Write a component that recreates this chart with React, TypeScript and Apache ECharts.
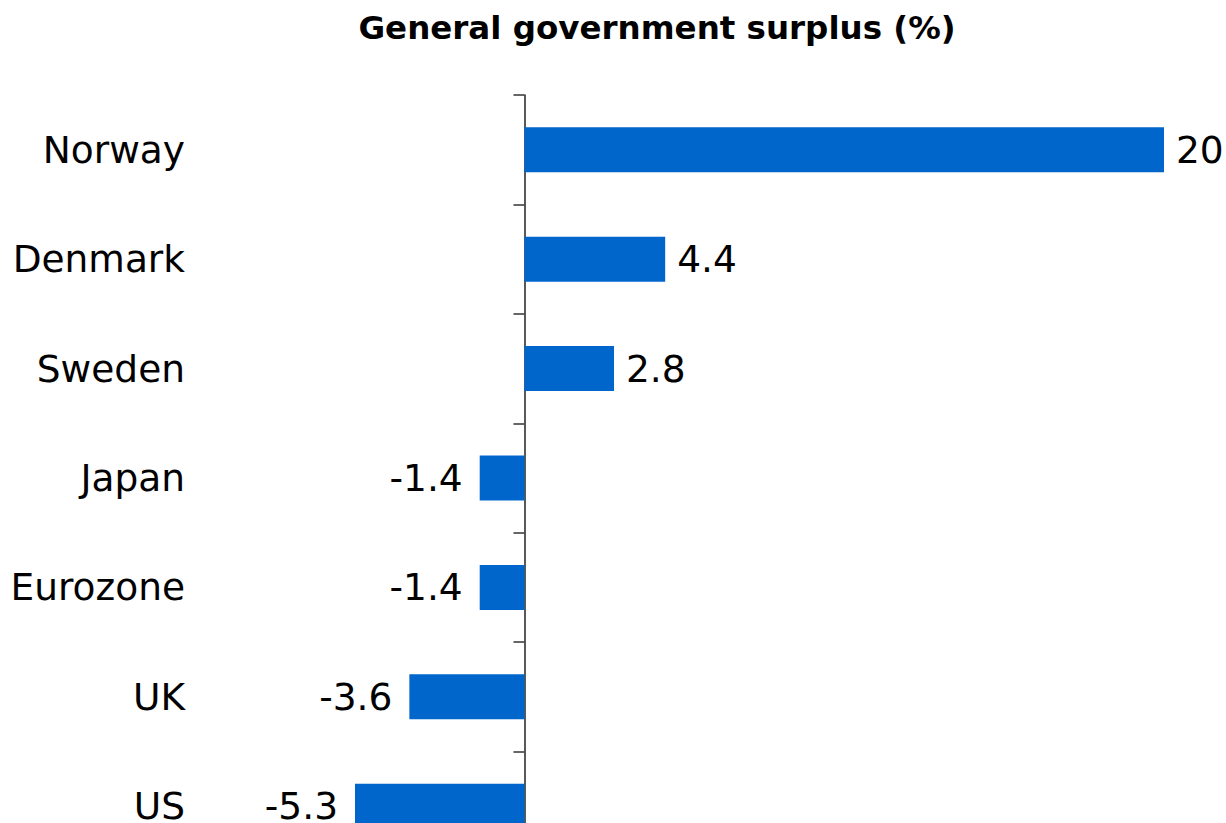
import React, { useEffect, useRef } from "react";
import * as echarts from "echarts";

const categories = ["Norway", "Denmark", "Sweden", "Japan", "Eurozone", "UK", "US"];
const values = [20, 4.4, 2.8, -1.4, -1.4, -3.6, -5.3];
const titleText = "General government surplus (%)";

export default function App() {
  const ref = useRef<HTMLDivElement>(null);
  useEffect(() => {
    document.body.style.margin = "0";
    const chart = echarts.init(ref.current!, null, { renderer: "svg" });
    chart.setOption({
      animation: false,
      title: {
        text: titleText,
        left: 652,
        top: 6,
        textAlign: "center",
        textStyle: { fontFamily: "DejaVu Sans", fontSize: 32.5, fontWeight: "bold", color: "#000" },
      },
      grid: { left: 355, right: 62, top: 95, height: 766, outerBoundsMode: "none", containLabel: false },
      xAxis: {
        type: "value",
        min: -5.3,
        max: 20,
        show: false,
      },
      yAxis: {
        type: "category",
        data: categories,
        inverse: true,
        axisLine: { show: true, onZero: true, lineStyle: { color: "#222", width: 1.5 } },
        axisTick: { show: true, length: 11, lineStyle: { color: "#333", width: 1.5 } },
        axisLabel: { margin: 170, fontFamily: "DejaVu Sans", fontSize: 37.5, color: "#000" },
        splitLine: { show: false },
      },
      series: [
        {
          type: "bar",
          barWidth: 45,
          data: values.map((v) => ({
            value: v,
            label: {
              show: true,
              position: v >= 0 ? "right" : "left",
              distance: v >= 0 ? 12 : 17,
              fontFamily: "DejaVu Sans",
              fontSize: 37.5,
              color: "#000",
            },
          })),
          itemStyle: { color: "#0066CC" },
        },
      ],
    });
    return () => chart.dispose();
  }, []);
  return <div ref={ref} style={{ width: 1226, height: 823, overflow: "hidden" }} />;
}
